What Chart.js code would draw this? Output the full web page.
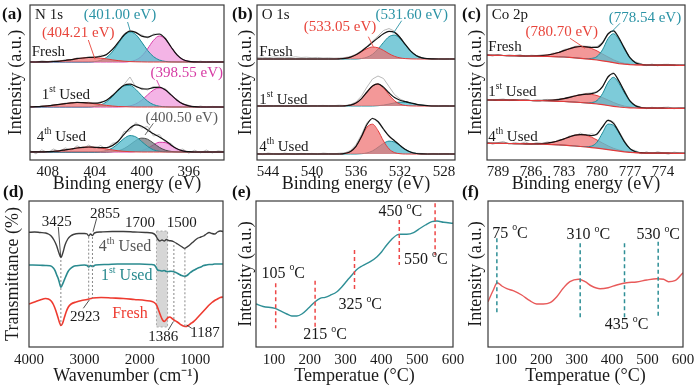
<!DOCTYPE html>
<html><head><meta charset="utf-8">
<script src="https://cdn.jsdelivr.net/npm/chart.js@4.4.1/dist/chart.umd.min.js"></script>
<style>
html,body{margin:0;padding:0;background:#fff;}
#wrap{position:relative;width:700px;height:390px;overflow:hidden;background:#fff;}
#wrap canvas{position:absolute;left:0;top:0;width:700px;height:390px;}
</style></head><body>
<div id="wrap">
<canvas id="ca" width="700" height="390"></canvas>
<canvas id="cb" width="700" height="390"></canvas>
<canvas id="cc" width="700" height="390"></canvas>
<canvas id="cd" width="700" height="390"></canvas>
<canvas id="ce" width="700" height="390"></canvas>
<canvas id="cf" width="700" height="390"></canvas>
</div>
<script>
// ================= DATA =================
// (a) N 1s  (binding energy, eV) ; intensities in a.u. above each spectrum's baseline
const E_N = [409.5,409,408.5,408,407.5,407,406.5,406,405.5,405,404.5,404,403.5,403,402.5,402,401.5,401,400.5,400,399.5,399,398.5,398,397.5,397,396.5,396,395.5,395,394.5,394,393.5,393];
const N_offsets = [98, 53, 8];
const N_fresh_red  = [0,0,0.1,0.2,0.5,0.9,1.5,2.4,3.3,4.0,4.5,4.4,3.9,3.1,2.2,1.4,0.8,0.4,0.2,0.1,0,0,0,0,0,0,0,0,0,0,0,0,0,0];
const N_fresh_cyan = [0,0,0,0,0,0,0,0,0,0,0,0.4,1.6,4.5,10.1,18.2,26.2,30,27.4,19.9,11.6,5.4,2.0,0.6,0.1,0,0,0,0,0,0,0,0,0];
const N_fresh_pink = [0,0,0,0,0,0,0,0,0,0,0,0,0,0,0,0,0,0.5,2.0,5.9,13.2,21.6,26,22.9,14.9,7.1,2.5,0.6,0.1,0,0,0,0,0];
const N_fresh_env  = [0,0,0.1,0.2,0.5,0.9,1.5,2.4,3.3,4.0,4.5,4.8,5.5,7.6,12.3,19.6,27.0,30.9,29.6,25.9,24.8,27.0,28.0,23.5,15.0,7.1,2.5,0.6,0.1,0,0,0,0,0];
const N_fresh_raw  = [0.8,-0.5,1.2,0.3,1.5,0.4,2.6,1.8,4.2,3.1,5.6,4.0,6.8,6.5,13.5,18.8,28.2,31.5,29.0,27.2,24.0,28.0,27.5,24.5,14.2,8.0,1.8,1.2,-0.6,0.9,-0.4,0.7,-0.3,0.5];
const N_1st_red  = [0.1,0.3,0.6,1.1,1.8,2.6,3.4,4.1,4.5,4.4,4.0,3.2,2.4,1.6,1.0,0.5,0.3,0.1,0,0,0,0,0,0,0,0,0,0,0,0,0,0,0,0];
const N_1st_cyan = [0,0,0,0,0,0,0,0,0,0,0,0.6,2.0,5.1,10.2,16.5,21.1,21.6,17.6,11.4,5.9,2.4,0.8,0.2,0,0,0,0,0,0,0,0,0,0];
const N_1st_pink = [0,0,0,0,0,0,0,0,0,0,0,0,0,0,0,0,0.3,1.1,3.1,6.8,12.1,17.0,19,17.0,12.1,6.8,3.1,1.1,0.3,0,0,0,0,0];
const N_1st_env  = [0.1,0.3,0.6,1.1,1.8,2.6,3.4,4.1,4.5,4.4,4.0,3.8,4.4,6.7,11.2,17.0,21.7,22.8,20.7,18.2,18.0,19.4,19.8,17.2,12.1,6.8,3.1,1.1,0.3,0,0,0,0,0];
const N_1st_raw  = [0.9,-0.4,1.3,0.6,2.4,2.0,4.0,3.2,5.3,4.0,4.8,3.0,5.2,6.0,12.0,16.2,22.5,30.0,20.0,19.2,17.0,20.5,19.0,18.5,11.0,7.8,2.5,1.8,-0.5,1.0,-0.3,0.6,0.2,-0.4];
const N_4th_red  = [0,0.1,0.1,0.3,0.7,1.2,2.1,3.0,4.0,4.7,5.0,4.7,4.0,3.0,2.1,1.2,0.7,0.3,0.1,0,0,0,0,0,0,0,0,0,0,0,0,0,0,0];
const N_4th_cyan = [0,0,0,0,0,0,0,0,0,0,0,0,0.4,1.4,4.0,8.4,13.5,16.4,15.1,10.5,5.6,2.2,0.7,0.2,0,0,0,0,0,0,0,0,0,0];
const N_4th_gray = [0,0,0,0,0,0,0,0,0,0,0,0,0,0,0.3,1.2,3.4,7.2,11.5,13.9,12.8,8.9,4.7,1.9,0.6,0.1,0,0,0,0,0,0,0,0];
const N_4th_pink = [0,0,0,0,0,0,0,0,0,0,0,0,0,0,0,0,0,0,0.4,1.4,3.7,7.1,9.7,9.4,6.4,3.1,1.1,0.3,0,0,0,0,0,0];
const N_4th_env  = [0,0.1,0.1,0.3,0.7,1.2,2.1,3.0,4.0,4.7,5.0,4.7,4.4,4.4,6.4,10.8,17.6,23.9,27.1,25.8,22.1,18.2,15.1,11.5,7.0,3.2,1.1,0.3,0,0,0,0,0,0];
const N_4th_raw  = [1.5,-1.8,2.2,-0.5,3.0,0.4,4.1,1.8,6.2,3.5,7.0,3.2,6.5,2.8,8.8,9.5,20.5,21.0,29.5,24.0,25.5,16.0,17.5,9.8,8.5,1.5,3.0,-1.2,1.8,-0.8,2.0,-1.0,1.2,0.4];
const N_ticks = [396,400,404,408];

// (b) O 1s
const E_O = [545,544.5,544,543.5,543,542.5,542,541.5,541,540.5,540,539.5,539,538.5,538,537.5,537,536.5,536,535.5,535,534.5,534,533.5,533,532.5,532,531.5,531,530.5,530,529.5,529,528.5,528,527.5,527];
const O_offsets = [101, 54, 6];
const O_fresh_red  = [0,0,0,0,0,0,0,0,0,0,0,0,0,0,0,0.2,0.7,1.9,4.2,7.3,10.3,12.0,11.2,8.6,5.3,2.7,1.1,0.4,0.1,0,0,0,0,0,0,0,0];
const O_fresh_cyan = [0,0,0,0,0,0,0,0,0,0,0,0,0,0,0,0,0,0,0,0.5,1.8,4.7,9.9,16.6,22.3,23.9,20.4,13.9,7.5,3.2,1.1,0.3,0.1,0,0,0,0];
const O_fresh_env  = [0,0,0,0,0,0,0,0,0,0,0,0,0,0,0,0.2,0.7,1.9,4.2,7.8,12.1,16.7,21.1,25.2,27.6,26.6,21.5,14.3,7.6,3.2,1.1,0.3,0.1,0,0,0,0];
const O_fresh_raw  = [1.5,1.8,1.2,2.0,1.6,1.9,1.4,2.2,1.5,1.8,1.3,1.6,1.0,1.2,0.8,1.0,1.5,2.6,4.8,8.5,12.8,17.8,23.0,28.5,30.5,27.8,22.0,14.5,7.9,3.5,1.4,0.3,-0.3,0.4,-0.2,0.3,0];
const O_1st_red  = [0,0,0,0,0,0,0,0,0,0,0,0,0,0,0,0,0.2,0.9,3.0,7.4,14.0,20.1,21.9,18.0,11.3,5.3,1.9,0.5,0.1,0,0,0,0,0,0,0,0];
const O_1st_cyan = [0,0,0,0,0,0,0,0,0,0,0,0,0,0,0,0,0,0,0,0,0,0,0.3,0.9,1.9,3.1,3.9,3.8,2.9,1.7,0.8,0.3,0,0,0,0,0];
const O_1st_env  = [0,0,0,0,0,0,0,0,0,0,0,0,0,0,0,0,0.2,0.9,3.0,7.4,14.0,20.1,22.2,18.9,13.2,8.4,5.8,4.3,3.0,1.7,0.8,0.3,0,0,0,0,0];
const O_1st_raw  = [0.4,-0.2,0.5,0.1,0.6,-0.3,0.4,0.2,0.7,-0.1,0.5,0.3,0.6,0.1,0.4,0.8,0.5,1.5,4.0,10.0,19.0,27.0,30.0,27.5,19.5,11.5,7.0,4.5,3.0,1.8,1.0,0.4,0.2,-0.3,0.3,-0.2,0.1];
const O_4th_red  = [0,0,0,0,0,0,0,0,0,0,0,0,0,0,0,0,0.6,2.5,7.7,17.1,26.9,29.8,23.4,13.0,5.1,1.4,0.3,0,0,0,0,0,0,0,0,0,0];
const O_4th_cyan = [0,0,0,0,0,0,0,0,0,0,0,0,0,0,0,0,0,0,0,0.3,1.1,3.1,6.7,10.6,12.9,11.9,8.3,4.4,1.8,0.5,0.1,0,0,0,0,0,0];
const O_4th_env  = [0,0,0,0,0,0,0,0,0,0,0,0,0,0,0,0,0.6,2.5,7.7,17.4,29.5,35.5,32.5,25.0,18.0,13.3,8.6,4.4,1.8,0.5,0.1,0,0,0,0,0,0];
const O_4th_raw  = [0.8,-0.6,1.0,0.2,-0.4,0.9,0.3,-0.5,0.7,0.1,0.6,-0.3,0.9,0.4,0.2,0.8,1.2,3.5,9.5,19.5,31.5,36.0,32.0,24.0,17.5,12.5,8.0,4.0,2.0,0.8,0.5,-0.4,0.6,-0.2,0.5,0.1,-0.3];
const O_ticks = [528,532,536,540,544];

// (c) Co 2p  (baselines are sloped Shirley backgrounds)
const E_Co = [790,789.5,789,788.5,788,787.5,787,786.5,786,785.5,785,784.5,784,783.5,783,782.5,782,781.5,781,780.5,780,779.5,779,778.5,778,777.5,777,776.5,776,775.5,775,774.5,774,773.5,773,772.5,772];
const Co_fresh_base = [104.8,104.7,104.6,104.5,104.4,104.3,104.2,104.0,103.9,103.8,103.7,103.6,103.4,103.2,103.0,102.6,102.2,101.7,101.2,100.6,100.0,99.2,98.3,97.3,96.4,95.8,95.4,95.2,95.1,95.0,95.0,94.9,94.9,94.8,94.8,94.7,94.7];
const Co_fresh_red  = [0,0,0,0,0,0,0,0,0.1,0.3,0.7,1.4,2.6,4.3,6.4,8.6,10.6,11.8,11.9,10.9,9.1,6.8,4.7,2.9,1.6,0.8,0.4,0.1,0,0,0,0,0,0,0,0,0];
const Co_fresh_cyan = [0,0,0,0,0,0,0,0,0,0,0,0,0,0,0,0,0,0,0.1,1.0,3.5,11.0,23.0,29.0,24.0,15.0,6.5,2.0,0.5,0,0,0,0,0,0,0,0];
const Co_fresh_env  = [0,0,0,0,0,0,0,0,0.1,0.3,0.7,1.4,2.6,4.3,6.4,8.6,10.6,11.8,12.0,11.9,12.6,17.8,27.7,31.9,25.6,15.8,6.9,2.1,0.5,0,0,0,0,0,0,0,0];
const Co_fresh_raw  = [0.5,-0.8,1.0,-0.3,0.8,0.2,1.2,-0.5,0.9,0.6,1.5,1.2,3.5,4.0,7.5,9.0,11.5,12.8,12.5,13.0,13.5,18.5,28.5,32.5,24.5,16.5,6.0,3.0,1.2,-0.6,1.0,-0.8,0.7,0.9,-0.5,0.6,0.2];
const Co_1st_base = [60.0,60.0,59.9,59.9,59.8,59.8,59.7,59.6,59.5,59.4,59.3,59.1,58.9,58.7,58.5,58.2,57.9,57.5,57.1,56.6,56.0,55.3,54.5,53.7,53.0,52.5,52.2,52.0,51.9,51.9,51.8,51.8,51.8,51.7,51.7,51.7,51.7];
const Co_1st_red  = [0,0,0,0,0,0,0,0,0,0,0.2,0.5,0.9,1.7,2.9,4.4,6.1,7.7,8.7,9.0,8.4,7.1,5.5,3.8,2.4,1.4,0.7,0.3,0.1,0,0,0,0,0,0,0,0];
const Co_1st_cyan = [0,0,0,0,0,0,0,0,0,0,0,0,0,0,0,0,0,0,0,0.8,3.5,11,23,29,23.5,14.5,6.2,2.0,0.5,0,0,0,0,0,0,0,0];
const Co_1st_env  = [0,0,0,0,0,0,0,0,0,0,0.2,0.5,0.9,1.7,2.9,4.4,6.1,7.7,8.7,9.8,11.9,18.1,28.5,32.8,25.9,15.9,6.9,2.3,0.6,0,0,0,0,0,0,0,0];
const Co_1st_raw  = [0.8,-0.4,0.6,1.2,-0.5,0.7,0.3,1.1,-0.2,0.9,0.8,1.5,1.0,2.5,3.2,5.0,6.5,8.0,9.5,10.5,12.5,17.0,29.5,34.0,25.0,17.0,6.5,2.8,0.9,-0.6,1.0,-0.3,0.8,1.2,-0.5,0.5,0.3];
const Co_4th_base = [16.7,16.7,16.6,16.6,16.5,16.4,16.3,16.2,16.1,16.0,15.8,15.6,15.4,15.1,14.8,14.4,14.0,13.5,13.0,12.4,11.8,11.1,10.4,9.6,8.9,8.2,7.7,7.3,7.0,6.9,6.9,6.8,6.8,6.8,6.7,6.7,6.7];
const Co_4th_red  = [0,0,0,0,0,0,0,0,0,0.2,0.5,1.2,2.4,4.1,6.3,8.7,10.8,11.9,11.8,10.4,8.2,5.9,3.7,2.1,1.0,0.5,0.2,0,0,0,0,0,0,0,0,0,0];
const Co_4th_cyan = [0,0,0,0,0,0,0,0,0,0,0,0,0,0,0,0,0,0,0.3,1.5,6.0,16.0,25.5,25.0,18.0,9.5,3.5,1.0,0.3,0,0,0,0,0,0,0,0];
const Co_4th_env  = [0,0,0,0,0,0,0,0,0,0.2,0.5,1.2,2.4,4.1,6.3,8.7,10.8,11.9,12.1,11.9,14.2,21.9,29.2,27.1,19.0,10.0,3.7,1.0,0.3,0,0,0,0,0,0,0,0];
const Co_4th_raw  = [1.5,-1.0,0.8,2.0,-0.8,1.2,0.2,1.8,-0.5,1.4,0.9,2.5,1.8,5.0,5.5,9.8,10.0,13.5,11.5,13.8,13.0,22.5,30.0,28.5,19.8,11.0,3.0,2.2,-0.8,1.3,-0.6,1.5,0.2,-1.0,1.2,0.4,-0.3];
const Co_ticks = [774,777,780,783,786,789];

// (d) FTIR  (wavenumber, cm-1 ; transmittance a.u.)
const IR_4th_wn = [4000,3900,3800,3700,3650,3600,3550,3500,3460,3425,3390,3350,3300,3250,3200,3100,3000,2950,2923,2890,2855,2820,2700,2500,2300,2100,1900,1780,1720,1680,1640,1600,1560,1520,1480,1420,1380,1320,1250,1190,1150,1100,1050,1000,950,900,850,800,750,700,650,600,550,500];
const IR_4th_T  = [114.7,115,114.5,114,113,111,107,101,94,89.5,94,102,108,111,112.5,113.5,113.5,113,111,113,111.5,114,115,115.5,115.5,115,114.5,114,112,108,106,107,106,107.5,106.5,106,105,103,100.5,98.5,100,102,104.5,107,109,110,111,113,114.5,113.5,113,115,116,115.5];
const IR_1st_wn = [4000,3800,3700,3620,3560,3530,3500,3470,3440,3425,3400,3370,3340,3300,3260,3200,3140,3000,2950,2923,2890,2855,2800,2600,2400,2200,2000,1800,1740,1710,1680,1640,1600,1560,1520,1480,1440,1400,1350,1300,1250,1200,1150,1100,1050,1000,950,900,850,800,750,700,650,600,550,500];
const IR_1st_T  = [82,81.8,81.5,81.3,79,76.3,72,68,62,59.7,62,66,70,75,78,80.5,81.3,82,81.5,80,81.5,80.5,82,82.5,83,83,83,82.5,82,80,77,76.5,76,76.5,75.5,75.5,75.8,75.5,74.5,73,71.5,70.7,71.5,74,76,77.5,79,80,81.5,82,82.5,82.5,83,83,83,83];
const IR_fresh_wn = [4000,3900,3800,3700,3650,3600,3560,3520,3480,3450,3425,3400,3370,3330,3290,3240,3150,3050,2950,2923,2880,2850,2700,2500,2300,2100,1900,1780,1730,1700,1670,1630,1590,1560,1530,1490,1460,1420,1386,1340,1300,1250,1200,1170,1130,1080,1040,1000,950,900,850,800,750,700,650,600,550,500];
const IR_fresh_T  = [43,45,47,48.5,48,46,42.5,37,30,24.5,21.5,23,28,35,40,43,45,46.5,47.5,48,48.5,49,49.5,49,48.5,47.5,46.5,45.5,44,42,38,32,27,25.5,27,29.5,30,28.5,27,25.5,24,22,20.8,20.5,21.5,23.5,25,27,30,33,36,39,42,44.5,46.5,48,49.5,50];
const IR_marks = [3425,2923,2855,1386,1187];
const IR_mark_top = [87,110.3,110,102,98.7];
const IR_mark_bot = [22,48.7,49,25.3,20.3];
const IR_band = [1700,1500];
const IR_band_y = [116,20];
const IR_ticks = [1000,2000,3000,4000];

// (e) TPD, teal curve
const TPD_e_T = [50,70,103,117,136,150,164,178,196,215,229,243,257,276,290,304,318,330,346,369,388,401,415,429,443,453,471,490,504,523,541,555,574,600];
const TPD_e_I = [43,40.5,38.7,36.3,33,31,31,33,38.7,45.3,48.7,49.7,51.7,55.3,60.3,66.3,72,77,81,85.3,90.3,95.3,102,107.7,112,112.7,112.7,114.3,117.7,122,125.3,126,124.7,123.7];
const E_marks = [105,215,325,450,550];
const E_mark_top = [63.7,66.3,97,127,143.7];
const E_mark_bot = [18.7,20.3,57,82,92];

// (f) TPD, red curve
const TPD_f_T = [50,65,76,89,103,121,145,168,187,206,225,244,262,281,305,324,342,366,389,413,441,469,498,526,545,559,577,600];
const TPD_f_I = [45.3,57,64.3,61,58.3,56.3,52,46.3,43,43,44.3,50.3,58.7,65.3,67.7,65.3,61,58.3,59.3,62,64.3,65,67,68.3,67.7,65.3,66.3,74.3];
const F_marks = [75,310,435,530];
const F_mark_top = [108.7,103.7,103.7,105.3];
const F_mark_bot = [33.7,28.7,28.7,28.7];
const T_ticks = [100,200,300,400,500,600];

// ================= STYLE / HELPERS =================
const FONT = "'Liberation Serif','Times New Roman',serif";
Chart.defaults.font.family = FONT;
Chart.defaults.color = '#1a1a1a';
const TEAL='#2b93a5', RED='#e8453c', MAG='#d63aa3', GRAYT='#5a5a5a';
const FILL = {
  cyan:{fill:'rgba(92,190,208,0.8)', line:'#1c8c99'},
  pink:{fill:'rgba(240,155,222,0.75)', line:'#d83aa8'},
  red:{fill:'rgba(238,112,112,0.72)', line:'#e23b3b'},
  gray:{fill:'rgba(105,110,115,0.7)', line:'#4d4d4d'}
};
const SUP1 = [['1'],['st',1],[' Used']];
const SUP4 = [['4'],['th',1],[' Used']];
const degC = n => [[n+' '],['o',1],['C']];

function drawRich(ctx, x, y, t) {
  const size = t.size || 15;
  const parts = t.parts || [[t.s]];
  const fonts = parts.map(p => (p[1] ? (size*0.62).toFixed(1) : size) + 'px ' + FONT);
  let w = 0;
  parts.forEach((p,i) => { ctx.font = fonts[i]; w += ctx.measureText(p[0]).width; });
  let cx = t.align === 'left' ? x : x - w/2;
  ctx.fillStyle = t.color || '#1a1a1a';
  ctx.textBaseline = 'middle'; ctx.textAlign = 'left';
  parts.forEach((p,i) => { ctx.font = fonts[i]; ctx.fillText(p[0], cx, p[1] ? y - size*0.36 : y); cx += ctx.measureText(p[0]).width; });
}
const panelPlugin = {
  id: 'panel',
  afterDraw(chart, args, o) {
    const {ctx, chartArea: a} = chart;
    const xs = chart.scales.x, ys = chart.scales.y;
    ctx.save();
    ctx.strokeStyle = '#3a3a3a'; ctx.lineWidth = 1.2;
    ctx.strokeRect(a.left, a.top, a.right - a.left, a.bottom - a.top);
    (o.texts||[]).forEach(t => drawRich(ctx, xs.getPixelForValue(t.x), ys.getPixelForValue(t.y), t));
    ctx.font = 'bold 17px ' + FONT; ctx.fillStyle = '#111'; ctx.textBaseline = 'middle'; ctx.textAlign = 'left';
    ctx.fillText(o.label, a.left + o.lx, a.top + o.ly);
    ctx.restore();
  }
};
function seg(x1,y1,x2,y2,color,width,dash){
  return {data:[{x:x1,y:y1},{x:x2,y:y2}], borderColor:color, borderWidth:width||0.9, borderDash:dash||[], fill:false, order:0};
}
function buildXPS(E, spectra) {
  const ds = [];
  spectra.forEach(sp => {
    const bIdx = ds.length;
    ds.push({data:E.map((e,i)=>({x:e,y:sp.base[i]})), borderColor: sp.baseColor || 'rgba(0,0,0,0)', borderWidth:1.2, fill:false, order:1});
    ds.push({data:E.map((e,i)=>({x:e,y:sp.base[i]+sp.raw[i]})), borderColor:'#b2b2b2', borderWidth:0.9, tension:0, fill:false, order:6});
    sp.comps.forEach(c => ds.push({data:E.map((e,i)=>({x:e,y:sp.base[i]+c.h[i]})), borderColor:c.line, backgroundColor:c.fill, borderWidth:1, fill:bIdx, cubicInterpolationMode:'monotone', order:4}));
    ds.push({data:E.map((e,i)=>({x:e,y:sp.base[i]+sp.env[i]})), borderColor:'#111', borderWidth:1.2, cubicInterpolationMode:'monotone', fill:false, order:2});
  });
  return ds;
}
function makeChart(id, g, xc, yc, datasets, panel) {
  return new Chart(document.getElementById(id), {
    type:'line',
    data:{datasets},
    options:{
      responsive:false, animation:false, devicePixelRatio:1,
      layout:{padding:{left:g.padL, right:g.padR, top:g.padT, bottom:g.padB}},
      plugins:{legend:{display:false}, tooltip:{enabled:false}, panel},
      elements:{point:{radius:0}, line:{borderJoinStyle:'round'}},
      scales:{
        x:{type:'linear', min:xc.min, max:xc.max, reverse:!!xc.reverse,
           grid:{display:false, drawTicks:false}, border:{display:false},
           ticks:{font:{size:15}, color:'#1a1a1a', padding:g.tickPad, maxRotation:0, autoSkip:false, callback:v=>String(v)},
           afterBuildTicks:s=>{ s.ticks = xc.ticks.map(v=>({value:v})); },
           afterFit:s=>{ s.height = g.xH; },
           title:{display:true, text:xc.title, font:{size:18}, color:'#1a1a1a', padding:{top:0,bottom:g.xTitlePad}}},
        y:{type:'linear', min:yc.min, max:yc.max,
           grid:{display:false, drawTicks:false}, border:{display:false},
           ticks:{display:false},
           afterFit:s=>{ s.width = g.yW; },
           title:{display:true, text:yc.title, font:{size:18}, color:'#1a1a1a', padding:{top:g.yTitlePad,bottom:0}}}
      }
    },
    plugins:[panelPlugin]
  });
}
const topG = {padT:5, padB:195, xH:35, tickPad:3, xTitlePad:0, yTitlePad:5};
const botG = {padT:201, padB:0, xH:43, tickPad:4, xTitlePad:3, yTitlePad:5};
const XPS_Y = {min:0, max:155, title:'Intensity (a.u.)'};
const BE = 'Binding energy (eV)';

// ---------- (a) ----------
const aDS = buildXPS(E_N, [
  {base:E_N.map(()=>N_offsets[0]), raw:N_fresh_raw, env:N_fresh_env, comps:[{h:N_fresh_red,...FILL.red},{h:N_fresh_cyan,...FILL.cyan},{h:N_fresh_pink,...FILL.pink}]},
  {base:E_N.map(()=>N_offsets[1]), raw:N_1st_raw, env:N_1st_env, comps:[{h:N_1st_red,...FILL.red},{h:N_1st_cyan,...FILL.cyan},{h:N_1st_pink,...FILL.pink}]},
  {base:E_N.map(()=>N_offsets[2]), raw:N_4th_raw, env:N_4th_env, comps:[{h:N_4th_red,...FILL.red},{h:N_4th_cyan,...FILL.cyan},{h:N_4th_gray,...FILL.gray},{h:N_4th_pink,...FILL.pink}]}
]).concat([
  seg(401.2,138,401.0,130,TEAL), seg(404.54,120,403.97,100.7,RED), seg(398.73,80,398.45,73,MAG), seg(399.01,36.7,399.72,25,GRAYT)
]);
makeChart('ca', {...topG, padL:0, padR:476, yW:30}, {min:393, max:409.5, reverse:true, ticks:N_ticks, title:BE}, XPS_Y, aDS, {
  label:'(a)', lx:-28, ly:10, texts:[
    {x:409.07,y:145,s:'N 1s',align:'left'},
    {x:401.85,y:145,s:'(401.00 eV)',color:TEAL},
    {x:405.39,y:126.7,s:'(404.21 eV)',color:RED},
    {x:409.36,y:108.3,s:'Fresh',align:'left'},
    {x:396.17,y:86.7,s:'(398.55 eV)',color:MAG},
    {x:408.5,y:65,parts:SUP1,align:'left'},
    {x:396.6,y:41.7,s:'(400.50 eV)',color:GRAYT},
    {x:408.93,y:22.7,parts:SUP4,align:'left'}
  ]});

// ---------- (b) ----------
const bDS = buildXPS(E_O, [
  {base:E_O.map(()=>O_offsets[0]), raw:O_fresh_raw, env:O_fresh_env, comps:[{h:O_fresh_red,...FILL.red},{h:O_fresh_cyan,...FILL.cyan}]},
  {base:E_O.map(()=>O_offsets[1]), raw:O_1st_raw, env:O_1st_env, comps:[{h:O_1st_red,...FILL.red},{h:O_1st_cyan,...FILL.cyan}]},
  {base:E_O.map(()=>O_offsets[2]), raw:O_4th_raw, env:O_4th_env, comps:[{h:O_4th_red,...FILL.red},{h:O_4th_cyan,...FILL.cyan}]}
]).concat([ seg(531.85,139.3,532.61,126.7,TEAL), seg(534.88,123.3,534.43,113.3,RED) ]);
makeChart('cb', {...topG, padL:230, padR:245, yW:27}, {min:527, max:545, reverse:true, ticks:O_ticks, title:BE}, XPS_Y, bDS, {
  label:'(b)', lx:-25, ly:10, texts:[
    {x:544.57,y:145,s:'O 1s',align:'left'},
    {x:530.94,y:145,s:'(531.60 eV)',color:TEAL},
    {x:537.45,y:133.3,s:'(533.05 eV)',color:RED},
    {x:544.79,y:108.3,s:'Fresh',align:'left'},
    {x:544.79,y:60,parts:SUP1,align:'left'},
    {x:544.79,y:13.3,parts:SUP4,align:'left'}
  ]});

// ---------- (c) ----------
const cDS = buildXPS(E_Co, [
  {base:Co_fresh_base, baseColor:'#e23b3b', raw:Co_fresh_raw, env:Co_fresh_env, comps:[{h:Co_fresh_cyan,...FILL.cyan},{h:Co_fresh_red,...FILL.red}]},
  {base:Co_1st_base, baseColor:'#e23b3b', raw:Co_1st_raw, env:Co_1st_env, comps:[{h:Co_1st_cyan,...FILL.cyan},{h:Co_1st_red,...FILL.red}]},
  {base:Co_4th_base, baseColor:'#e23b3b', raw:Co_4th_raw, env:Co_4th_env, comps:[{h:Co_4th_cyan,...FILL.cyan},{h:Co_4th_red,...FILL.red}]}
]).concat([ seg(777.91,136.7,778.66,128.3,TEAL), seg(782.45,121.7,781.09,111.7,RED) ]);
makeChart('cc', {...topG, padL:460, padR:15, yW:27}, {min:772, max:790, reverse:true, ticks:Co_ticks, title:BE}, XPS_Y, cDS, {
  label:'(c)', lx:-25, ly:10, texts:[
    {x:789.57,y:145,s:'Co 2p',align:'left'},
    {x:775.64,y:141.7,s:'(778.54 eV)',color:TEAL},
    {x:783.21,y:128.3,s:'(780.70 eV)',color:RED},
    {x:789.88,y:113.3,s:'Fresh',align:'left'},
    {x:789.88,y:68.3,parts:SUP1,align:'left'},
    {x:789.88,y:23.3,parts:SUP4,align:'left'}
  ]});

// ---------- (d) ----------
const dDS = [];
IR_marks.forEach((w,i)=>dDS.push(seg(w,IR_mark_top[i],w,IR_mark_bot[i],'#7a7a7a',0.9,[2,2])));
dDS.push(seg(3471,120,3428,90,'#222',0.8), seg(2779,128.7,2845,115.3,'#222',0.8), seg(3020,38.7,2912,47,'#222',0.8), seg(1487,17,1397,25.3,'#222',0.8), seg(1065,18.7,1155,22,'#222',0.8));
dDS.push({data:IR_4th_wn.map((w,i)=>({x:w,y:IR_4th_T[i]})), borderColor:'#3e3e3e', borderWidth:1.4, cubicInterpolationMode:'monotone', fill:false, order:2});
dDS.push({data:IR_1st_wn.map((w,i)=>({x:w,y:IR_1st_T[i]})), borderColor:'#2a8a8f', borderWidth:1.6, cubicInterpolationMode:'monotone', fill:false, order:2});
dDS.push({data:IR_fresh_wn.map((w,i)=>({x:w,y:IR_fresh_T[i]})), borderColor:'#ee3b30', borderWidth:1.6, cubicInterpolationMode:'monotone', fill:false, order:2});
dDS.push({data:[{x:IR_band[0],y:IR_band_y[0]},{x:IR_band[1],y:IR_band_y[0]},{x:IR_band[1],y:IR_band_y[1]},{x:IR_band[0],y:IR_band_y[1]},{x:IR_band[0],y:IR_band_y[0]}],
  borderColor:'#9a9a9a', borderWidth:0.8, borderDash:[2,2], backgroundColor:'rgba(200,200,200,0.75)', fill:'shape', order:9});
makeChart('cd', {...botG, padL:0, padR:477, yW:29, yTitlePad:2}, {min:500, max:4000, reverse:true, ticks:IR_ticks, title:'Wavenumber (cm\u207B\u00B9)'}, {min:0, max:146, title:'Transmittance (%)'}, dDS, {
  label:'(d)', lx:-26, ly:-8, texts:[
    {x:3500,y:125.3,s:'3425'}, {x:2629,y:133,s:'2855'}, {x:1997,y:123.7,s:'1700'}, {x:1245,y:123.7,s:'1500'},
    {x:2268,y:100.3,parts:SUP4,color:'#555',size:16},
    {x:2237,y:71,parts:SUP1,color:'#2a8a8f',size:16},
    {x:2178,y:33.7,s:'Fresh',color:'#ee3b30',size:16},
    {x:2990,y:30.3,s:'2923'}, {x:1577,y:10.3,s:'1386'}, {x:825,y:13.7,s:'1187'}
  ]});

// ---------- (e) ----------
const eDS = [];
E_marks.forEach((t,i)=>eDS.push(seg(t,E_mark_top[i],t,E_mark_bot[i],'#ee4848',1.5,[4,3])));
eDS.push({data:TPD_e_T.map((t,i)=>({x:t,y:TPD_e_I[i]})), borderColor:'#2f8f96', borderWidth:1.4, cubicInterpolationMode:'monotone', fill:false, order:2});
makeChart('ce', {...botG, padL:230, padR:247, yW:26}, {min:50, max:600, ticks:T_ticks, title:'Temperatue (\u00B0C)'}, {min:0, max:146, title:'Intensity (a.u.)'}, eDS, {
  label:'(e)', lx:-24, ly:-8, texts:[
    {x:126,y:73.7,parts:degC(105),size:16}, {x:243,y:12,parts:degC(215),size:16}, {x:341,y:42,parts:degC(325),size:16},
    {x:453,y:135.3,parts:degC(450),size:16}, {x:524,y:87,parts:degC(550),size:16}
  ]});

// ---------- (f) ----------
const fDS = [];
F_marks.forEach((t,i)=>fDS.push(seg(t,F_mark_top[i],t,F_mark_bot[i],'#2f8f96',1.5,[4,3])));
fDS.push({data:TPD_f_T.map((t,i)=>({x:t,y:TPD_f_I[i]})), borderColor:'#e85a5a', borderWidth:1.4, cubicInterpolationMode:'monotone', fill:false, order:2});
makeChart('cf', {...botG, padL:460, padR:17, yW:28}, {min:50, max:600, ticks:T_ticks, title:'Temperatue (\u00B0C)'}, {min:0, max:146, title:'Intensity (a.u.)'}, fDS, {
  label:'(f)', lx:-26, ly:-8, texts:[
    {x:112,y:113.7,parts:degC(75),size:16}, {x:333,y:112,parts:degC(310),size:16},
    {x:441,y:22,parts:degC(435),size:16}, {x:530,y:112,parts:degC(530),size:16}
  ]});
</script></body></html>
